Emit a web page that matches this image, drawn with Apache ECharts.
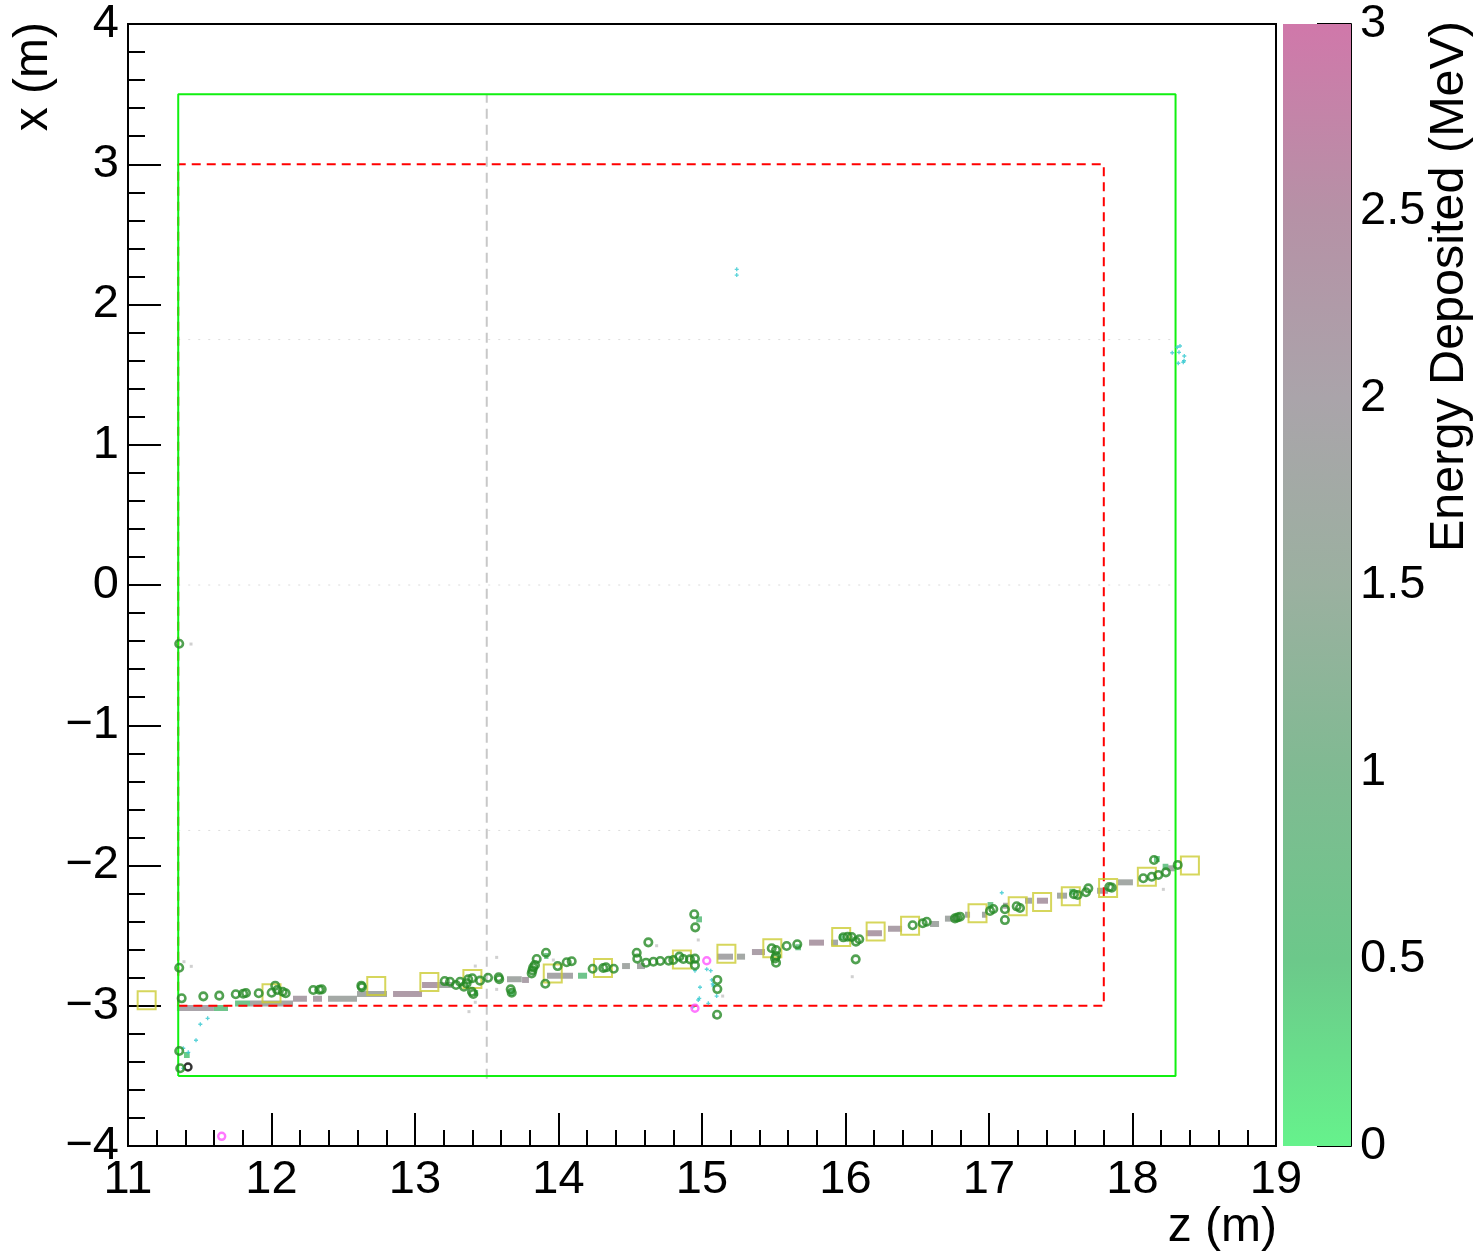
<!DOCTYPE html>
<html>
<head>
<meta charset="utf-8">
<script src="https://cdn.jsdelivr.net/npm/echarts/dist/echarts.min.js"></script>
<style>
html,body{margin:0;padding:0;background:#fff;}
#chart{width:1483px;height:1256px;}
</style>
</head>
<body>
<div id="chart"></div>
<script>
// ---------------- data ----------------
const zTicks = [11, 12, 13, 14, 15, 16, 17, 18, 19];
const xTicks = [-4, -3, -2, -1, 0, 1, 2, 3, 4];
const energyTicks = [0, 0.5, 1, 1.5, 2, 2.5, 3];

// detector outlines (z, x in m)
const outerBoxZ = [11.35, 18.30];
const outerBoxX = [-3.5, 3.5];
const innerBoxZ = [11.35, 17.80];
const innerBoxX = [-3.0, 3.0];
const dividerZ = 13.5;
const dividerX = [-3.52, 3.5];
const planeX = [1.75, 0, -1.75];

// reconstructed track points (yellow squares)
const squareZ = [11.13, 12.00, 12.73, 13.10, 13.40, 13.96, 14.31, 14.86, 15.17, 15.49, 15.97, 16.21, 16.45, 16.92, 17.20, 17.37, 17.57, 17.83, 18.10, 18.40];
const squareX = [-2.96, -2.91, -2.86, -2.83, -2.81, -2.77, -2.73, -2.67, -2.63, -2.59, -2.51, -2.47, -2.43, -2.34, -2.29, -2.26, -2.22, -2.16, -2.08, -2.00];

// energy-deposit hits: start z, end z, x, energy (MeV)
const hitZ0 = [11.341, 11.599, 11.746, 11.850, 12.150, 12.289, 12.394, 12.596, 12.847, 13.049, 13.160, 13.641, 13.746, 13.920, 14.136, 14.443, 14.547, 15.105, 15.244, 15.348, 15.746, 15.899, 16.143, 16.296, 16.589, 16.693, 16.833, 16.951, 17.098, 17.251, 17.334, 17.474, 17.753, 17.899, 18.240,
  11.390, 13.410, 13.655, 14.960, 16.990, 17.560, 18.150, 18.210, 15.650, 15.955, 13.900];
const hitZ1 = [11.599, 11.697, 11.850, 12.150, 12.247, 12.352, 12.596, 12.805, 13.049, 13.160, 13.260, 13.744, 13.794, 14.101, 14.199, 14.498, 14.603, 15.216, 15.300, 15.439, 15.850, 15.948, 16.254, 16.394, 16.652, 16.798, 16.868, 16.986, 17.132, 17.300, 17.411, 17.544, 17.829, 18.003, 18.300,
  11.430, 13.440, 13.690, 15.000, 17.030, 17.600, 18.190, 18.250, 15.690, 15.990, 13.930];
const hitX = [-3.016, -3.016, -2.984, -2.984, -2.950, -2.950, -2.950, -2.916, -2.916, -2.852, -2.852, -2.811, -2.816, -2.786, -2.786, -2.717, -2.717, -2.650, -2.650, -2.617, -2.550, -2.550, -2.483, -2.451, -2.417, -2.379, -2.351, -2.351, -2.287, -2.251, -2.251, -2.215, -2.180, -2.120, -2.020,
  -3.351, -2.909, -2.909, -2.384, -2.282, -2.187, -1.954, -2.009, -2.583, -2.510, -2.645];
const hitE = [2.0, 0.6, 0.6, 1.8, 2.1, 2.1, 1.8, 1.8, 2.2, 2.2, 1.8, 1.8, 2.1, 1.9, 0.6, 1.8, 1.8, 1.9, 1.8, 2.1, 2.2, 1.8, 2.2, 2.1, 1.8, 1.8, 1.8, 1.8, 1.8, 1.8, 2.2, 1.8, 1.8, 1.8, 1.8,
  0.45, 0.5, 0.5, 0.6, 0.6, 0.6, 0.5, 0.6, 0.6, 0.6, 0.6];

// green hollow circles (hit positions)
const circleZ = [11.357, 11.374, 11.525, 11.636, 11.751, 11.803, 11.822, 11.911, 12.001, 12.026, 12.040, 12.078, 12.099, 12.291, 12.333, 12.350, 12.626, 12.630,
  13.207, 13.244, 13.286, 13.314, 13.341, 13.360, 13.371, 13.399, 13.397, 13.406, 13.453, 13.509, 13.583, 13.587, 13.667, 13.674, 13.813, 13.818, 13.824, 13.836, 13.848,
  13.913, 13.908, 13.994, 14.057, 14.092, 14.238, 14.312, 14.331, 14.385, 14.545, 14.549, 14.626, 14.610, 14.661, 14.709, 14.768, 14.800, 14.842, 14.870, 14.916, 14.951,
  14.951, 14.946, 14.953, 15.107, 15.107, 15.105, 15.486, 15.509, 15.516, 15.516, 15.516, 15.590, 15.664, 15.985, 16.015, 16.043, 16.073, 16.096, 16.071, 16.468, 16.538,
  16.566, 16.763, 16.780, 16.798, 17.007, 17.030, 17.111, 17.111, 17.193, 17.216, 17.592, 17.618, 17.676, 17.692, 17.838, 17.855, 18.075, 18.134, 18.180, 18.233, 18.150,
  18.315, 11.357, 11.364, 11.357];
const circleX = [-2.729, -2.947, -2.933, -2.928, -2.918, -2.914, -2.909, -2.911, -2.907, -2.857, -2.888, -2.900, -2.911, -2.888, -2.886, -2.883, -2.857, -2.867,
  -2.824, -2.829, -2.852, -2.829, -2.864, -2.840, -2.811, -2.804, -2.900, -2.916, -2.821, -2.800, -2.797, -2.811, -2.883, -2.907, -2.769, -2.748, -2.726, -2.709, -2.667,
  -2.622, -2.843, -2.717, -2.690, -2.683, -2.736, -2.731, -2.726, -2.736, -2.622, -2.664, -2.548, -2.693, -2.686, -2.681, -2.679, -2.674, -2.650, -2.667, -2.669, -2.664,
  -2.712, -2.348, -2.441, -2.816, -2.881, -3.064, -2.590, -2.662, -2.603, -2.645, -2.693, -2.574, -2.562, -2.512, -2.508, -2.510, -2.543, -2.526, -2.669, -2.426, -2.412,
  -2.401, -2.377, -2.371, -2.365, -2.324, -2.310, -2.312, -2.389, -2.291, -2.303, -2.205, -2.210, -2.191, -2.163, -2.153, -2.158, -2.091, -2.080, -2.068, -2.049, -1.961,
  -1.996, -3.323, -3.446, -0.419];

// cyan small hits
const cyanZ = [15.242, 15.242, 18.312, 18.331, 18.277, 18.324, 18.361, 18.359, 18.354, 18.319, 11.555, 11.504, 11.474, 11.385, 11.420, 11.385,
  14.951, 15.033, 15.061, 14.986, 15.068, 15.075, 15.079, 14.981, 14.974, 15.102, 14.935, 15.044, 17.089];
const cyanX = [2.251, 2.210, 1.695, 1.704, 1.656, 1.659, 1.633, 1.599, 1.588, 1.581, -3.090, -3.132, -3.246, -3.303, -3.332, -3.446,
  -2.750, -2.740, -2.750, -2.868, -2.816, -2.845, -2.859, -2.947, -2.959, -2.931, -3.011, -2.983, -2.194];

// magenta hollow circles
const magentaZ = [14.951, 15.033, 11.653];
const magentaX = [-3.018, -2.679, -3.931];

// black hollow circle
const blackZ = [11.418];
const blackX = [-3.437];

// faint grey hits
const greyZ = [11.439, 11.390, 11.441, 13.376, 13.569, 13.569, 13.420, 13.420, 13.964, 14.684, 14.974, 15.144, 15.084, 16.047, 18.215];
const greyX = [-0.421, -2.686, -2.719, -3.042, -2.655, -2.883, -2.717, -2.975, -2.674, -2.572, -2.531, -2.931, -3.078, -2.793, -2.170];

// colour scale stops (energy MeV -> rgb)
const scaleE = [0, 0.5, 1, 1.5, 2, 2.5, 3];
const scaleRGB = [[102, 242, 140], [108, 200, 138], [128, 186, 146], [155, 176, 160], [170, 164, 170], [182, 145, 166], [208, 120, 170]];

// ---------------- helpers ----------------
function colorFor(e) {
  e = Math.max(scaleE[0], Math.min(scaleE[scaleE.length - 1], e));
  for (let i = 0; i < scaleE.length - 1; i++) {
    if (e <= scaleE[i + 1]) {
      const t = (e - scaleE[i]) / (scaleE[i + 1] - scaleE[i]);
      const a = scaleRGB[i], b = scaleRGB[i + 1];
      return 'rgb(' + [0, 1, 2].map(k => Math.round(a[k] + (b[k] - a[k]) * t)).join(',') + ')';
    }
  }
  return 'rgb(' + scaleRGB[scaleRGB.length - 1].join(',') + ')';
}
const zip = (a, b) => a.map((v, i) => [v, b[i]]);
const boxPath = (zr, xr) => [[zr[0], xr[0]], [zr[0], xr[1]], [zr[1], xr[1]], [zr[1], xr[0]], [zr[0], xr[0]]];
const FONT = 'Liberation Sans, Arial, Helvetica, sans-serif';
const minus = v => String(v).replace('-', '\u2212');

const chart = echarts.init(document.getElementById('chart'), null, {renderer: 'canvas'});

const planeSeries = planeX.map(px => ({
  type: 'line', xAxisIndex: 0, yAxisIndex: 0, silent: true, symbol: 'none',
  data: [[outerBoxZ[0], px], [outerBoxZ[1], px]],
  lineStyle: {color: '#dcdcdc', width: 1, type: [2, 8]}, z: 1
}));

const option = {
  animation: false,
  backgroundColor: '#ffffff',
  grid: [
    {left: 128, top: 24, width: 1148, height: 1122, show: true, borderColor: '#000', borderWidth: 2, backgroundColor: 'rgba(0,0,0,0)'},
    {left: 1283, top: 24, width: 68, height: 1122, show: false}
  ],
  xAxis: [
    {
      gridIndex: 0, type: 'value', min: zTicks[0], max: zTicks[zTicks.length - 1], interval: 1,
      axisLine: {show: true, onZero: false, lineStyle: {color: '#000', width: 2}},
      axisTick: {show: true, inside: true, length: 33, lineStyle: {color: '#000', width: 2}},
      minorTick: {show: true, splitNumber: 5, length: 16, lineStyle: {color: '#000', width: 2}},
      axisLabel: {fontSize: 47, fontFamily: FONT, color: '#000', margin: 11, formatter: v => minus(v)},
      splitLine: {show: false}
    },
    {gridIndex: 1, type: 'value', min: 0, max: 1, show: false}
  ],
  yAxis: [
    {
      gridIndex: 0, type: 'value', min: xTicks[0], max: xTicks[xTicks.length - 1], interval: 1,
      axisLine: {show: true, onZero: false, lineStyle: {color: '#000', width: 2}},
      axisTick: {show: true, inside: true, length: 33, lineStyle: {color: '#000', width: 2}},
      minorTick: {show: true, splitNumber: 5, length: 17, lineStyle: {color: '#000', width: 2}},
      axisLabel: {fontSize: 47, fontFamily: FONT, color: '#000', margin: 9, formatter: v => minus(v)},
      splitLine: {show: false}
    },
    {
      gridIndex: 1, type: 'value', position: 'right', min: energyTicks[0], max: energyTicks[energyTicks.length - 1], interval: 0.5,
      axisLine: {show: true, onZero: false, lineStyle: {color: '#000', width: 2}},
      axisTick: {show: true, inside: true, length: 34, lineStyle: {color: '#000', width: 2}},
      axisLabel: {fontSize: 47, fontFamily: FONT, color: '#000', margin: 9, formatter: v => String(v)},
      splitLine: {show: false}
    }
  ],
  graphic: [
    {type: 'text', x: 1277, y: 1228, silent: true,
      style: {text: 'z (m)', font: '48px ' + FONT, fill: '#000', textAlign: 'right', textVerticalAlign: 'middle'}},
    {type: 'text', x: 34, y: 22, rotation: Math.PI / 2, silent: true,
      style: {text: 'x (m)', font: '48px ' + FONT, fill: '#000', textAlign: 'right', textVerticalAlign: 'middle'}},
    {type: 'text', x: 1450, y: 21, rotation: Math.PI / 2, silent: true,
      style: {text: 'Energy Deposited (MeV)', font: '48.5px ' + FONT, fill: '#000', textAlign: 'right', textVerticalAlign: 'middle'}}
  ],
  series: [
    // colour bar
    {
      type: 'custom', xAxisIndex: 1, yAxisIndex: 1, silent: true, z: 1,
      data: [[0, energyTicks[0], 1, energyTicks[energyTicks.length - 1]]],
      renderItem: function (params, api) {
        const p0 = api.coord([api.value(0), api.value(1)]);
        const p1 = api.coord([api.value(2), api.value(3)]);
        const stops = scaleE.map((e, i) => ({offset: e / scaleE[scaleE.length - 1], color: 'rgb(' + scaleRGB[i].join(',') + ')'}));
        return {
          type: 'rect',
          shape: {x: p0[0], y: p1[1], width: p1[0] - p0[0], height: p0[1] - p1[1]},
          style: {fill: new echarts.graphic.LinearGradient(0, 1, 0, 0, stops)}
        };
      }
    },
    ...planeSeries,
    {
      type: 'line', silent: true, symbol: 'none', z: 2,
      data: [[dividerZ, dividerX[0]], [dividerZ, dividerX[1]]],
      lineStyle: {color: '#c8c8c8', width: 2, type: [10, 6]}
    },
    // energy hits
    {
      type: 'custom', silent: true, z: 3,
      data: hitZ0.map((z0, i) => [z0, hitZ1[i], hitX[i], hitE[i]]),
      encode: {x: [0, 1], y: 2},
      renderItem: function (params, api) {
        const p0 = api.coord([api.value(0), api.value(2)]);
        const p1 = api.coord([api.value(1), api.value(2)]);
        return {
          type: 'rect',
          shape: {x: p0[0], y: p0[1] - 3, width: Math.max(3, p1[0] - p0[0]), height: 6},
          style: {fill: colorFor(api.value(3))}
        };
      }
    },
    {
      type: 'line', silent: true, symbol: 'none', z: 4,
      data: boxPath(innerBoxZ, innerBoxX),
      lineStyle: {color: '#ff0000', width: 2, type: [9, 6]}
    },
    {
      type: 'line', silent: true, symbol: 'none', z: 5,
      data: boxPath(outerBoxZ, outerBoxX),
      lineStyle: {color: '#11f011', width: 2}
    },
    {
      type: 'scatter', silent: true, z: 6, symbol: 'rect', symbolSize: 3,
      data: zip(greyZ, greyX), itemStyle: {color: '#c4c4c4'}
    },
    {
      type: 'scatter', silent: true, z: 6, symbol: 'path://M1,0H2V1H3V2H2V3H1V2H0V1H1Z', symbolSize: 4,
      data: zip(cyanZ, cyanX), itemStyle: {color: '#33c8d0'}
    },
    {
      type: 'scatter', silent: true, z: 7, symbol: 'rect', symbolSize: 18,
      data: zip(squareZ, squareX),
      itemStyle: {color: 'rgba(0,0,0,0)', borderColor: '#cccc33', borderWidth: 2}
    },
    {
      type: 'scatter', silent: true, z: 8, symbol: 'circle', symbolSize: 7,
      data: zip(magentaZ, magentaX),
      itemStyle: {color: 'rgba(0,0,0,0)', borderColor: '#ff55ff', borderWidth: 2.4}
    },
    {
      type: 'scatter', silent: true, z: 8, symbol: 'circle', symbolSize: 7,
      data: zip(blackZ, blackX),
      itemStyle: {color: 'rgba(0,0,0,0)', borderColor: '#000', borderWidth: 2.4}
    },
    {
      type: 'scatter', silent: true, z: 9, symbol: 'circle', symbolSize: 7.5,
      data: zip(circleZ, circleX),
      itemStyle: {color: 'rgba(0,0,0,0)', borderColor: '#258a25', borderWidth: 2.6}
    }
  ]
};
chart.setOption(option);
</script>
</body>
</html>
